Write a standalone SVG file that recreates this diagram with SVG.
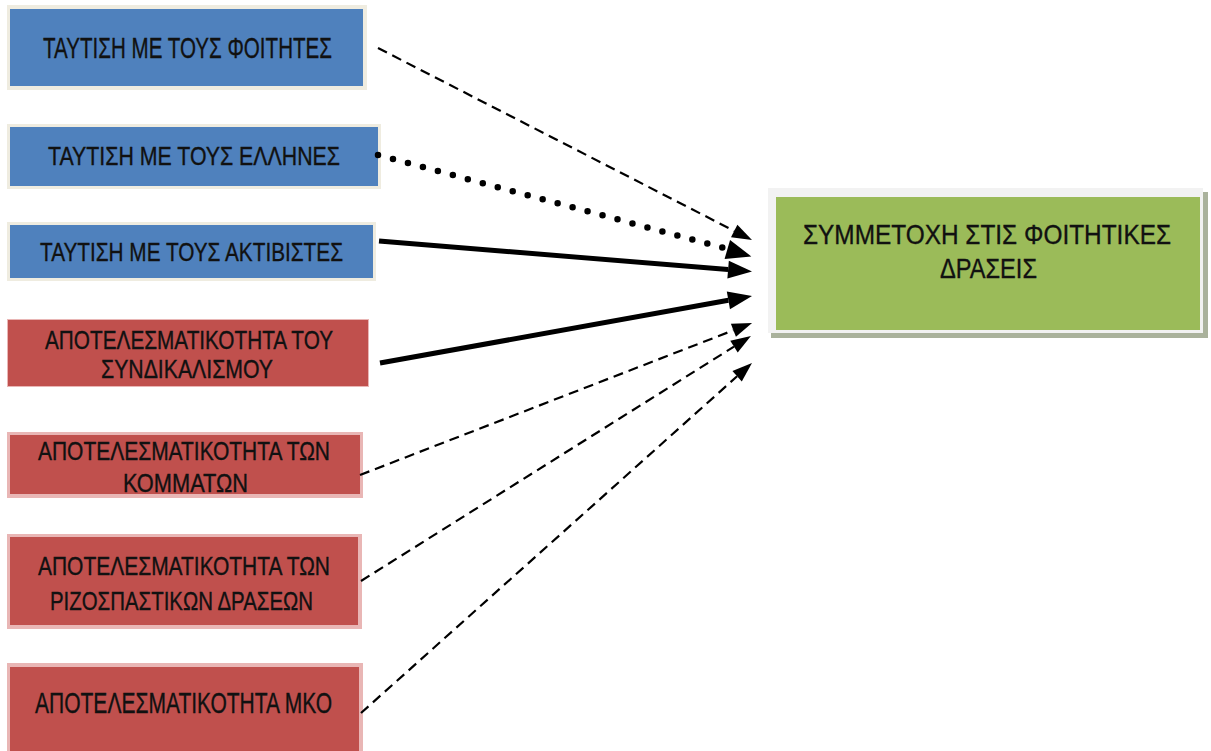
<svg xmlns="http://www.w3.org/2000/svg" width="1211" height="751" viewBox="0 0 1211 751">
<style>
.blue-o{fill:#efece0}
.blue{fill:#4f81bd}
.red-o{fill:#e9b6b5}
.red{fill:#c0504d}
.t{font-family:"Liberation Sans",Arial,sans-serif;fill:#111;stroke:#111;stroke-width:0.35}
.dash{fill:none;stroke:#000;stroke-width:2.2;stroke-dasharray:10 6}
.dot{fill:none;stroke:#000;stroke-width:6.5;stroke-dasharray:0 15.5;stroke-linecap:round}
.solid{fill:none;stroke:#000;stroke-width:5}
.mk{fill:none;stroke:none}
</style>
<defs>
<marker id="ah" markerUnits="userSpaceOnUse" markerWidth="20" markerHeight="14" refX="0" refY="7" orient="auto" overflow="visible"><path d="M0,0 L20,7 L0,14 z" fill="#000"/></marker>
<marker id="ahBig" markerUnits="userSpaceOnUse" markerWidth="25" markerHeight="20" refX="0" refY="10" orient="auto" overflow="visible"><path d="M0,0 L25,10 L0,20 z" fill="#000"/></marker>
<marker id="ahSolid" markerUnits="userSpaceOnUse" markerWidth="24" markerHeight="18" refX="0" refY="9" orient="auto" overflow="visible"><path d="M0,0 L24,9 L0,18 z" fill="#000"/></marker>
</defs>
<rect width="1211" height="751" fill="#fff"/>

<g id="n1">
<rect class="blue-o" x="7" y="5" width="360" height="85"/>
<rect class="blue" x="10" y="9" width="353" height="77"/>
<text class="t" x="43" y="58" font-size="29" textLength="289" lengthAdjust="spacingAndGlyphs">ΤΑΥΤΙΣΗ ΜΕ ΤΟΥΣ ΦΟΙΤΗΤΕΣ</text>
</g>
<g id="n2">
<rect class="blue-o" x="7" y="124" width="374" height="65"/>
<rect class="blue" x="10" y="127" width="368" height="59"/>
<text class="t" x="48" y="165" font-size="25" textLength="292" lengthAdjust="spacingAndGlyphs">ΤΑΥΤΙΣΗ ΜΕ ΤΟΥΣ ΕΛΛΗΝΕΣ</text>
</g>
<g id="n3">
<rect class="blue-o" x="7" y="222" width="369" height="59"/>
<rect class="blue" x="10" y="225" width="363" height="53"/>
<text class="t" x="40" y="261" font-size="26" textLength="303" lengthAdjust="spacingAndGlyphs">ΤΑΥΤΙΣΗ ΜΕ ΤΟΥΣ ΑΚΤΙΒΙΣΤΕΣ</text>
</g>
<g id="n4">
<rect class="red-o" x="7" y="319" width="362" height="68"/>
<rect class="red" x="8" y="320" width="360" height="66"/>
<text class="t" x="45" y="349" font-size="25" textLength="288" lengthAdjust="spacingAndGlyphs">ΑΠΟΤΕΛΕΣΜΑΤΙΚΟΤΗΤΑ ΤΟΥ</text>
<text class="t" x="101" y="378" font-size="25" textLength="172" lengthAdjust="spacingAndGlyphs">ΣΥΝΔΙΚΑΛΙΣΜΟΥ</text>
</g>
<g id="n5">
<rect class="red-o" x="7" y="432" width="356" height="66"/>
<rect class="red" x="10" y="435" width="350" height="59"/>
<text class="t" x="38" y="460" font-size="25" textLength="292" lengthAdjust="spacingAndGlyphs">ΑΠΟΤΕΛΕΣΜΑΤΙΚΟΤΗΤΑ ΤΩΝ</text>
<text class="t" x="123" y="492" font-size="25" textLength="125" lengthAdjust="spacingAndGlyphs">ΚΟΜΜΑΤΩΝ</text>
</g>
<g id="n6">
<rect class="red-o" x="7" y="534" width="355" height="95"/>
<rect class="red" x="10" y="537" width="348" height="88"/>
<text class="t" x="38" y="575" font-size="25" textLength="292" lengthAdjust="spacingAndGlyphs">ΑΠΟΤΕΛΕΣΜΑΤΙΚΟΤΗΤΑ ΤΩΝ</text>
<text class="t" x="50" y="610" font-size="25" textLength="263" lengthAdjust="spacingAndGlyphs">ΡΙΖΟΣΠΑΣΤΙΚΩΝ ΔΡΑΣΕΩΝ</text>
</g>
<g id="n7">
<rect class="red-o" x="7" y="663" width="356" height="95"/>
<rect class="red" x="10" y="667" width="349" height="90"/>
<text class="t" x="35" y="713" font-size="29" textLength="297" lengthAdjust="spacingAndGlyphs">ΑΠΟΤΕΛΕΣΜΑΤΙΚΟΤΗΤΑ ΜΚΟ</text>
</g>
<g id="target">
<rect x="771" y="192" width="437" height="146" fill="#aab29c"/>
<rect x="768" y="188" width="435" height="145" fill="#f2f2f2"/>
<rect x="776" y="197" width="424" height="133" fill="#9bbb59"/>
<text class="t" x="803" y="244" font-size="28" textLength="368" lengthAdjust="spacingAndGlyphs">ΣΥΜΜΕΤΟΧΗ ΣΤΙΣ ΦΟΙΤΗΤΙΚΕΣ</text>
<text class="t" x="940" y="278" font-size="28" textLength="97" lengthAdjust="spacingAndGlyphs">ΔΡΑΣΕΙΣ</text>
</g>

<g id="connectors">
<line class="dash" x1="378" y1="48" x2="734.2" y2="230.9" marker-end="url(#ah)"/>
<line class="dot" x1="378" y1="155" x2="724" y2="248"/>
<line class="mk" x1="718.6" y1="247" x2="727.3" y2="249.5" marker-end="url(#ahBig)"/>
<line class="solid" x1="379" y1="241" x2="728.1" y2="269.6" marker-end="url(#ahSolid)"/>
<line class="solid" x1="380" y1="363" x2="728.4" y2="300.3" marker-end="url(#ahSolid)"/>
<line class="dash" x1="360" y1="475" x2="733.4" y2="330.3" marker-end="url(#ah)"/>
<line class="dash" x1="361" y1="581" x2="734.0" y2="346.6" marker-end="url(#ah)"/>
<line class="dash" x1="361" y1="713" x2="737.1" y2="376.3" marker-end="url(#ah)"/>
</g>
</svg>
